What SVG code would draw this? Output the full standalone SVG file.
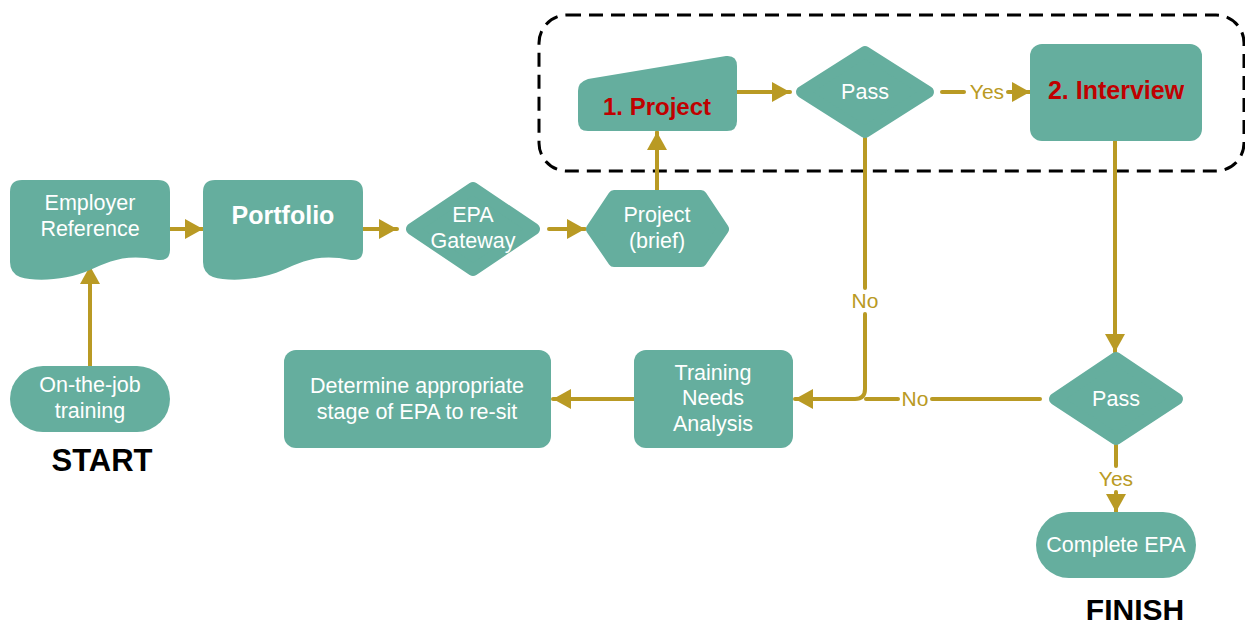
<svg xmlns="http://www.w3.org/2000/svg" width="1245" height="628" viewBox="0 0 1245 628">
<defs>
<marker id="ah" markerUnits="userSpaceOnUse" markerWidth="20" markerHeight="20" refX="18" refY="10" orient="auto">
<path d="M0,0 L18,10 L0,20 Z" fill="#B99A24"/>
</marker>
<style>
.n{fill:#65AE9E}
.r{fill:#65AE9E;stroke:#65AE9E;stroke-width:12;stroke-linejoin:round}
.t{font-family:"Liberation Sans",Arial,sans-serif;font-size:21.5px;fill:#FFFFFF;text-anchor:middle}
.b{font-family:"Liberation Sans",Arial,sans-serif;font-weight:bold;text-anchor:middle}
.c{fill:none;stroke:#B99A24;stroke-width:4;stroke-linecap:round}
.l{font-family:"Liberation Sans",Arial,sans-serif;font-size:21px;fill:#B99A24;text-anchor:middle}
</style>
</defs>
<rect x="539" y="15" width="705" height="156" rx="28" fill="none" stroke="#000" stroke-width="3" stroke-dasharray="14 8"/>
<g id="connectors">
<path class="c" d="M90,366 V266" marker-end="url(#ah)"/>
<path class="c" d="M167,229 H203" marker-end="url(#ah)"/>
<path class="c" d="M360,229 H397" marker-end="url(#ah)"/>
<path class="c" d="M549,229 H585" marker-end="url(#ah)"/>
<path class="c" d="M657,190 V132" marker-end="url(#ah)"/>
<path class="c" d="M737,92 H790" marker-end="url(#ah)"/>
<path class="c" d="M942,92 H964"/>
<path class="c" d="M1008,92 H1030" marker-end="url(#ah)"/>
<path class="c" d="M865,138 V288"/>
<path class="c" d="M865,314 V389 Q865,399 855,399 H795" marker-end="url(#ah)"/>
<path class="c" d="M1040,399 H932"/>
<path class="c" d="M898,399 H866"/>
<path class="c" d="M1115,141 V352" marker-end="url(#ah)"/>
<path class="c" d="M1116,445 V466"/>
<path class="c" d="M1116,492 V512" marker-end="url(#ah)"/>
<path class="c" d="M634,399 H553" marker-end="url(#ah)"/>
<text class="l" x="987" y="99">Yes</text>
<text class="l" x="865" y="308">No</text>
<text class="l" x="915" y="406">No</text>
<text class="l" x="1116" y="486">Yes</text>
</g>
<g id="employer-reference">
<path class="n" d="M22,180 H158 Q170,180 170,192 V250 Q170,261 158,260 C125,253 108,262 90,270 C68,280 36,282 20,277 Q10,273 10,262 V192 Q10,180 22,180 Z"/>
<text class="t" x="90" y="210">Employer</text>
<text class="t" x="90" y="236">Reference</text>
</g>
<g id="portfolio">
<path class="n" d="M215,180 H351 Q363,180 363,192 V250 Q363,261 351,260 C318,253 301,262 283,270 C261,280 229,282 213,277 Q203,273 203,262 V192 Q203,180 215,180 Z"/>
<text class="b" x="283" y="224" font-size="25" fill="#FFFFFF">Portfolio</text>
</g>
<g id="epa-gateway">
<polygon class="r" points="412,229 473,188 534,229 473,270"/>
<text class="t" x="473" y="222">EPA</text>
<text class="t" x="473" y="248">Gateway</text>
</g>
<g id="project-brief">
<polygon class="r" points="592,229 614,196 701,196 723,229 701,261 614,261"/>
<text class="t" x="657" y="222">Project</text>
<text class="t" x="657" y="248">(brief)</text>
</g>
<g id="project">
<path class="n" d="M578,91 Q578,82 588,79 L726,56 Q737,55 737,66 V121 Q737,131 727,131 H588 Q578,131 578,121 Z"/>
<text class="b" x="657" y="115" font-size="24" fill="#C00000">1. Project</text>
</g>
<g id="pass-1">
<polygon class="r" points="802,92 865,52 928,92 865,132"/>
<text class="t" x="865" y="99">Pass</text>
</g>
<g id="interview">
<rect class="n" x="1030" y="44" width="172" height="97" rx="12"/>
<text class="b" x="1116" y="99" font-size="25" fill="#C00000">2. Interview</text>
</g>
<g id="pass-2">
<polygon class="r" points="1055,399 1116,358 1177,399 1116,439"/>
<text class="t" x="1116" y="406">Pass</text>
</g>
<g id="complete-epa">
<rect class="n" x="1036" y="512" width="160" height="66" rx="33"/>
<text class="t" x="1116" y="552">Complete EPA</text>
</g>
<g id="training-needs-analysis">
<rect class="n" x="634" y="350" width="159" height="98" rx="12"/>
<text class="t" x="713" y="380">Training</text>
<text class="t" x="713" y="405">Needs</text>
<text class="t" x="713" y="431">Analysis</text>
</g>
<g id="determine-stage">
<rect class="n" x="284" y="350" width="267" height="98" rx="12"/>
<text class="t" x="417" y="393">Determine appropriate</text>
<text class="t" x="417" y="419">stage of EPA to re-sit</text>
</g>
<g id="on-the-job-training">
<rect class="n" x="10" y="366" width="160" height="66" rx="33"/>
<text class="t" x="90" y="392">On-the-job</text>
<text class="t" x="90" y="418">training</text>
</g>
<text class="b" x="102" y="471" font-size="31" fill="#000">START</text>
<text class="b" x="1135" y="620" font-size="30" fill="#000">FINISH</text>
</svg>
